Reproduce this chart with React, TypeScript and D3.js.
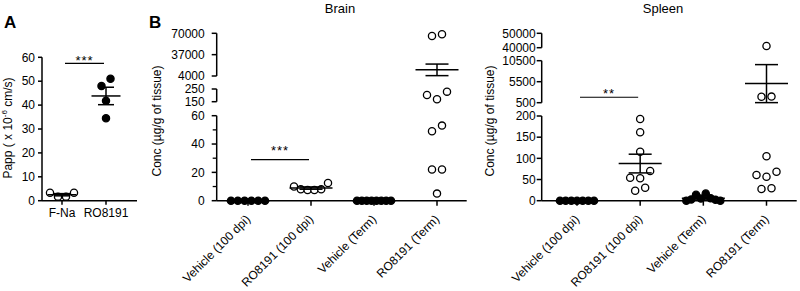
import React from 'react';
import * as d3 from 'd3';

const FONT = '"Liberation Sans", Arial, Helvetica, sans-serif';

// ---------------- data ----------------
// Panel A
const panelACategories = ['F-Na', 'RO8191'];
const panelAFNa = [3.3, 1.7, 1.7, 3.3];
const panelARO8191 = [48, 51, 41.8, 34.5];
const panelATicks = [0, 10, 20, 30, 40, 50, 60];
const panelASig = { from: 'F-Na', to: 'RO8191', label: '***', value: 57.5 };

// Panel B groups
const groupLabels = ['Vehicle (100 dpi)', 'RO8191 (100 dpi)', 'Vehicle (Term)', 'RO8191 (Term)'];
const groupFilled = [true, false, true, false];

// Brain
const brainVehicle100 = [0, 0, 0, 0, 0, 0];
const brainRO8191_100 = [10, 8, 7.5, 7.5, 8, 12.5];
const brainVehicleTerm = [0, 0, 0, 0, 0, 0, 0, 0];
const brainRO8191Term = [65800, 68450, 203, 169, 229, 49, 53, 22, 22, 5];
const brainDomains = [[0, 60], [150, 250], [4000, 70000]];
const brainTicks = [[0, 20, 40, 60], [150, 250], [4000, 37000, 70000]];
const brainMinorTicks = [10, 30, 50];
const brainSig = { from: 'Vehicle (100 dpi)', to: 'RO8191 (100 dpi)', label: '***', value: 29 };

// Spleen
const spleenVehicle100 = [0, 0, 0, 0, 0, 0, 0];
const spleenRO8191_100 = [193, 161.5, 115.7, 54.3, 52.9, 70, 23.6, 30.7];
const spleenVehicleTerm = [0, 3, 14, 5, 17, 6, 2, 0];
const spleenRO8191Term = [41180, 1900, 1950, 105, 60.7, 56.7, 68.5, 27.6, 29.3];
const spleenDomains = [[0, 200], [500, 10500], [40000, 50000]];
const spleenTicks = [[0, 50, 100, 150, 200], [500, 5500, 10500], [40000, 50000]];
const spleenMinorTicks: number[] = [];
const spleenSig = { from: 'Vehicle (100 dpi)', to: 'RO8191 (100 dpi)', label: '**', value: 1800 };

// ---------------- helpers ----------------
type Seg = { domain: number[]; range: number[] };

const makeBroken = (segs: Seg[]) => (v: number): number => {
  for (let i = 0; i < segs.length; i++) {
    const s = segs[i];
    if (v <= s.domain[1] || i === segs.length - 1) {
      if (v < s.domain[0] && i > 0) {
        const prev = segs[i - 1];
        return v - prev.domain[1] < s.domain[0] - v ? prev.range[1] : s.range[0];
      }
      return d3.scaleLinear().domain(s.domain).range(s.range)(v);
    }
  }
  return segs[0].range[0];
};

function swarm(values: number[], yFn: (v: number) => number, cx: number, maxWidth: number, maxSpacing: number, threshold = 8) {
  const items = values.map((v, i) => ({ v, i, y: yFn(v), x: cx }));
  const sorted = [...items].sort((a, b) => a.y - b.y);
  const clusters: typeof items[] = [];
  let cur: typeof items = [];
  sorted.forEach((it) => {
    if (cur.length && Math.abs(it.y - cur[cur.length - 1].y) >= threshold) {
      clusters.push(cur);
      cur = [];
    }
    cur.push(it);
  });
  if (cur.length) clusters.push(cur);
  clusters.forEach((c) => {
    c.sort((a, b) => a.i - b.i);
    const n = c.length;
    const sp = n > 1 ? Math.min(maxSpacing, maxWidth / (n - 1)) : 0;
    c.forEach((it, k) => {
      it.x = cx + (k - (n - 1) / 2) * sp;
    });
  });
  return items;
}

type Group = { label: string; values: number[]; filled: boolean };

function Scatter({ groups, x, y, meanW, capW, r, maxWidth, maxSpacing }: any) {
  return (
    <g>
      {groups.map((g: Group, gi: number) => {
        const cx = x(g.label);
        const pts = swarm(g.values, y, cx, maxWidth, maxSpacing);
        const mean = d3.mean(g.values) as number;
        const sd = g.values.length > 1 ? (d3.deviation(g.values) as number) : 0;
        const sem = sd / Math.sqrt(g.values.length);
        const ym = y(mean);
        const yu = y(mean + sem);
        const yl = y(mean - sem);
        return (
          <g key={gi}>
            {pts.map((p, i) => (
              <circle key={i} cx={p.x} cy={p.y} r={r}
                fill={g.filled ? '#000' : '#fff'} stroke="#000" strokeWidth={1.3} />
            ))}
            <g stroke="#000" strokeWidth={1.5}>
              <line x1={cx - meanW / 2} x2={cx + meanW / 2} y1={ym} y2={ym} />
              <line x1={cx} x2={cx} y1={yu} y2={yl} />
              <line x1={cx - capW / 2} x2={cx + capW / 2} y1={yu} y2={yu} />
              <line x1={cx - capW / 2} x2={cx + capW / 2} y1={yl} y2={yl} />
            </g>
          </g>
        );
      })}
    </g>
  );
}

function SigBar({ sig, x, y, starDy }: any) {
  const x1 = x(sig.from) + 3;
  const x2 = x(sig.to) - 2;
  const yy = y(sig.value);
  return (
    <g>
      <line x1={x1} x2={x2} y1={yy} y2={yy} stroke="#000" strokeWidth={1.2} />
      <text x={(x1 + x2) / 2} y={yy + starDy} textAnchor="middle" fontSize={13} letterSpacing={1}
        fontFamily={FONT} fill="#000">{sig.label}</text>
    </g>
  );
}

function BrokenPanel({ axisX, axisEnd, baseY, xRange, domains, ranges, ticks, minor, groups, title, titleX,
  labelEndGap, sig, starDy, yTitleX }: any) {
  const segs: Seg[] = domains.map((d: number[], i: number) => ({ domain: d, range: ranges[i] }));
  const y = makeBroken(segs);
  const x = d3.scalePoint<string>().domain(groupLabels).range(xRange);
  const groupsData: Group[] = groups.map((vals: number[], i: number) => ({
    label: groupLabels[i], values: vals, filled: groupFilled[i],
  }));
  return (
    <g>
      {segs.map((s, i) => (
        <line key={'seg' + i} x1={axisX} x2={axisX} y1={s.range[0]} y2={s.range[1]} stroke="#000" strokeWidth={1.5} />
      ))}
      {ticks.map((tk: number[], si: number) =>
        tk.map((t) => (
          <g key={si + '-' + t}>
            <line x1={axisX - 5} x2={axisX} y1={y(t)} y2={y(t)} stroke="#000" strokeWidth={1.5} />
            <text x={axisX - labelEndGap} y={y(t)} dy="0.35em" textAnchor="end" fontSize={12}
              fontFamily={FONT} fill="#000">{t}</text>
          </g>
        ))
      )}
      {minor.map((t: number) => (
        <line key={'m' + t} x1={axisX - 4} x2={axisX} y1={y(t)} y2={y(t)} stroke="#000" strokeWidth={1.3} />
      ))}
      <line x1={axisX} x2={axisEnd} y1={baseY} y2={baseY} stroke="#000" strokeWidth={1.5} />
      {groupLabels.map((g) => (
        <g key={g}>
          <line x1={x(g)} x2={x(g)} y1={baseY} y2={baseY + 5} stroke="#000" strokeWidth={1.5} />
          <text transform={`translate(${(x(g) as number) + 3},220) rotate(-45)`} textAnchor="end" fontSize={12}
            fontFamily={FONT} fill="#000">{g}</text>
        </g>
      ))}
      <Scatter groups={groupsData} x={x} y={y} meanW={43} capW={23} r={3.6} maxWidth={34} maxSpacing={10} />
      <SigBar sig={sig} x={x} y={y} starDy={starDy} />
      <text x={titleX} y={13} textAnchor="middle" fontSize={13} fontFamily={FONT} fill="#000">{title}</text>
      <text transform={`translate(${yTitleX},121) rotate(-90)`} textAnchor="middle" fontSize={12}
        fontFamily={FONT} fill="#000">Conc (µg/g of tissue)</text>
    </g>
  );
}

function PanelA() {
  const axisX = 42;
  const baseY = 200.7;
  const y = d3.scaleLinear().domain([0, 60]).range([baseY, 57.3]);
  const x = d3.scalePoint<string>().domain(panelACategories).range([62, 106]);
  const groups: Group[] = [
    { label: 'F-Na', values: panelAFNa, filled: false },
    { label: 'RO8191', values: panelARO8191, filled: true },
  ];
  return (
    <g>
      <text x={4} y={28} fontSize={17} fontWeight="bold" fontFamily={FONT} fill="#000">A</text>
      <line x1={axisX} x2={axisX} y1={y(60)} y2={baseY} stroke="#000" strokeWidth={1.5} />
      {panelATicks.map((t) => (
        <g key={t}>
          <line x1={axisX - 4} x2={axisX} y1={y(t)} y2={y(t)} stroke="#000" strokeWidth={1.5} />
          <text x={35} y={y(t)} dy="0.35em" textAnchor="end" fontSize={12} fontFamily={FONT} fill="#000">{t}</text>
        </g>
      ))}
      <line x1={axisX} x2={137} y1={baseY} y2={baseY} stroke="#000" strokeWidth={1.5} />
      {panelACategories.map((c) => (
        <g key={c}>
          <line x1={x(c)} x2={x(c)} y1={baseY} y2={baseY + 4} stroke="#000" strokeWidth={1.5} />
          <text x={x(c)} y={217} textAnchor="middle" fontSize={12} fontFamily={FONT} fill="#000">{c}</text>
        </g>
      ))}
      <Scatter groups={groups} x={x} y={y} meanW={29} capW={16} r={3.6} maxWidth={24} maxSpacing={9} />
      <SigBar sig={panelASig} x={x} y={y} starDy={1.5} />
      <text transform="translate(12,128) rotate(-90)" textAnchor="middle" fontSize={12} fontFamily={FONT} fill="#000">
        Papp ( x 10<tspan dy="-5" fontSize={8}>-6</tspan><tspan dy="5"> cm/s)</tspan>
      </text>
    </g>
  );
}

export default function App() {
  return (
    <svg width={800} height={291} viewBox="0 0 800 291"
      style={{ position: 'fixed', left: 0, top: 0, background: '#fff' }}>
      <rect width={800} height={291} fill="#fff" />
      <PanelA />
      <text x={149} y={28} fontSize={17} fontWeight="bold" fontFamily={FONT} fill="#000">B</text>
      <BrokenPanel
        axisX={216.7} axisEnd={466.7} baseY={200.7} xRange={[248, 437]}
        domains={brainDomains} ranges={[[200.7, 115.7], [101.7, 89], [76, 33.3]]}
        ticks={brainTicks} minor={brainMinorTicks}
        groups={[brainVehicle100, brainRO8191_100, brainVehicleTerm, brainRO8191Term]}
        title="Brain" titleX={340} labelEndGap={12} sig={brainSig} starDy={-4.5} yTitleX={161}
      />
      <BrokenPanel
        axisX={541.7} axisEnd={796.7} baseY={200.7} xRange={[577, 766.5]}
        domains={spleenDomains} ranges={[[200.7, 116], [102.7, 60.7], [47.7, 33.3]]}
        ticks={spleenTicks} minor={spleenMinorTicks}
        groups={[spleenVehicle100, spleenRO8191_100, spleenVehicleTerm, spleenRO8191Term]}
        title="Spleen" titleX={663} labelEndGap={6} sig={spleenSig} starDy={0.5} yTitleX={494}
      />
    </svg>
  );
}
